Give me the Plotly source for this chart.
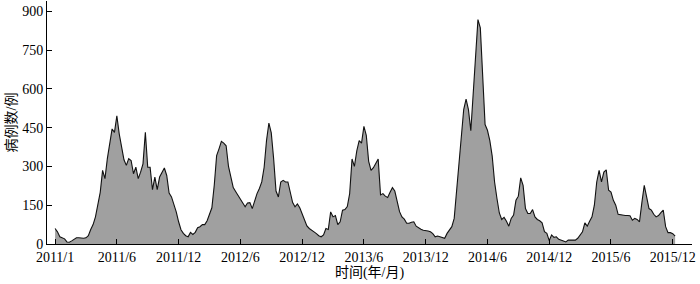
import plotly.graph_objects as go

# Weekly case counts
cases_2011 = [60, 47, 28, 24, 20, 8, 7, 12, 19, 24,
              24, 22, 22, 24, 32, 56, 75, 105, 160, 200,
              285, 253, 330, 385, 445, 432, 496, 426, 368, 326,
              304, 330, 323, 272, 297, 253, 278, 310, 432, 297,
              297, 210, 259, 210, 259, 278, 294, 265, 197, 182,
              156, 124]
cases_2012 = [86, 55, 41, 32, 28, 45, 37, 45,
              63, 67, 75, 75, 90, 115, 140, 227, 342, 368,
              397, 390, 380, 300, 255, 218, 203, 188, 172, 160,
              144, 159, 160, 137, 170, 195, 215, 240, 297, 400,
              468, 430, 330, 205, 182, 240, 246, 240, 240, 200,
              160, 144, 155, 140]
cases_2013 = [115, 90, 70, 60, 52, 47,
              40, 32, 28, 35, 60, 56, 124, 105, 110, 75,
              86, 131, 133, 145, 195, 329, 300, 360, 400, 390,
              455, 420, 320, 285, 295, 315, 329, 190, 195, 185,
              180, 200, 218, 205, 165, 125, 105, 96, 80, 80,
              84, 86, 69, 62, 57, 53]
cases_2014 = [52, 50, 47, 40,
              28, 31, 28, 24, 22, 41, 54, 67, 99, 200,
              300, 420, 520, 560, 520, 438, 590, 760, 868, 836,
              640, 462, 440, 400, 340, 240, 176, 120, 95, 103,
              88, 69, 99, 112, 169, 185, 256, 227, 137, 118,
              118, 133, 105, 95, 90, 82, 48, 41]
cases_2015 = [13, 35,
              26, 28, 18, 16, 12, 8, 15, 15, 14, 15,
              22, 35, 47, 82, 69, 88, 105, 150, 240, 285,
              240, 278, 287, 208, 201, 169, 150, 115, 113, 112,
              110, 110, 109, 92, 99, 95, 86, 160, 227, 182,
              137, 131, 115, 105, 110, 121, 131, 67, 44, 44,
              40, 30]

tick_weeks = [0, 26, 52, 78, 104, 130, 156, 182, 208, 234, 260]
tick_labels = ["2011/1", "2011/6", "2011/12", "2012/6", "2012/12", "2013/6",
               "2013/12", "2014/6", "2014/12", "2015/6", "2015/12"]
y_ticks = [0, 150, 300, 450, 600, 750, 900]

cases = cases_2011 + cases_2012 + cases_2013 + cases_2014 + cases_2015
weeks = list(range(len(cases)))

fig = go.Figure()
fig.add_trace(go.Scatter(
    x=weeks, y=cases, mode="lines", fill="tozeroy",
    fillcolor="#a0a0a0", line=dict(color="#111111", width=1.1),
    hoverinfo="x+y", showlegend=False,
))

serif = "Liberation Serif, Times New Roman, serif"
cjk = "Liberation Serif, Noto Sans CJK SC, serif"

fig.update_layout(
    width=700, height=284,
    margin=dict(l=47, r=8, t=1, b=40, autoexpand=False),
    paper_bgcolor="white", plot_bgcolor="white",
    font=dict(family=serif, size=14, color="black"),
    xaxis=dict(
        range=[-3.4, 268.1], tickmode="array", tickvals=tick_weeks,
        ticktext=tick_labels, ticks="inside", ticklen=5, tickcolor="black",
        showline=True, linecolor="black", linewidth=1, showgrid=False,
        zeroline=False, tickfont=dict(family=serif, size=14), automargin=False,
        title=dict(text="时间(年/月)", font=dict(family=cjk, size=14), standoff=0),
    ),
    yaxis=dict(
        range=[0, 940], tickmode="array", tickvals=y_ticks,
        ticks="inside", ticklen=5, tickcolor="black",
        showline=True, linecolor="black", linewidth=1, showgrid=False,
        zeroline=False, tickfont=dict(family=serif, size=14), automargin=False,
        title=dict(text="病例数/例", font=dict(family=cjk, size=14), standoff=2),
    ),
)

fig.write_html("out.html", config={"displayModeBar": False},
               post_script="document.body.style.margin='0';")
